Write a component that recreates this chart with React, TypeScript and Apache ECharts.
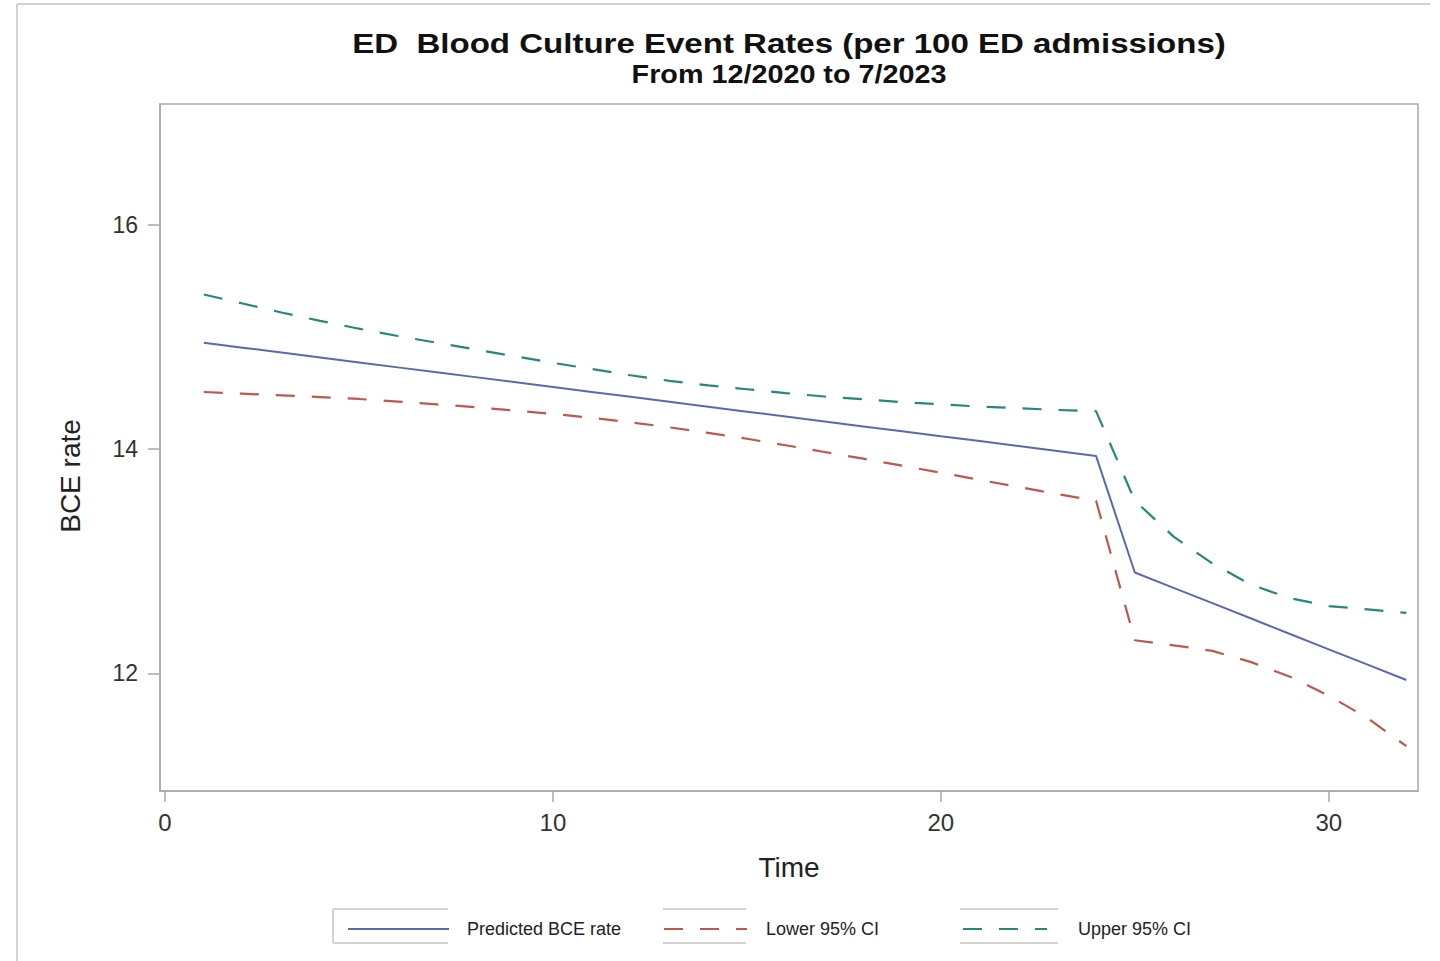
import React, { useEffect, useRef } from "react";
import * as echarts from "echarts";

const titleText = "ED  Blood Culture Event Rates (per 100 ED admissions)";
const subtitleText = "From 12/2020 to 7/2023";
const xAxisName = "Time";
const yAxisName = "BCE rate";

const timePoints = [1, 2, 3, 4, 5, 6, 7, 8, 9, 10, 11, 12, 13, 14, 15, 16, 17, 18, 19, 20, 21, 22, 23, 24, 25, 26, 27, 28, 29, 30, 31, 32];
const predicted = [14.95, 14.906, 14.862, 14.818, 14.774, 14.73, 14.687, 14.643, 14.599, 14.555, 14.511, 14.467, 14.423, 14.379, 14.335, 14.291, 14.247, 14.203, 14.159, 14.115, 14.072, 14.028, 13.984, 13.94, 12.9, 12.763, 12.626, 12.489, 12.351, 12.214, 12.077, 11.94];
const lowerCI = [14.51, 14.495, 14.48, 14.465, 14.448, 14.425, 14.4, 14.375, 14.345, 14.315, 14.28, 14.24, 14.195, 14.145, 14.093, 14.035, 13.975, 13.915, 13.853, 13.79, 13.726, 13.663, 13.6, 13.54, 12.295, 12.25, 12.2, 12.1, 11.97, 11.8, 11.6, 11.35];
const upperCI = [15.38, 15.3, 15.22, 15.145, 15.075, 15.01, 14.95, 14.89, 14.83, 14.77, 14.715, 14.66, 14.61, 14.57, 14.535, 14.5, 14.47, 14.445, 14.42, 14.4, 14.38, 14.365, 14.35, 14.34, 13.54, 13.22, 12.98, 12.79, 12.67, 12.6, 12.57, 12.54];

const xTicks = [0, 10, 20, 30];
const yTicks = [12, 14, 16];
const seriesNames = ["Predicted BCE rate", "Lower 95% CI", "Upper 95% CI"];

const FONT = "'Liberation Sans', Arial, sans-serif";
const BLUE = "#5b68b0";
const RED = "#c0574c";
const GREEN = "#24887a";
const FRAME = "#a9a9a9";
const LIGHT = "#d2d2d2";

export default function App() {
  const ref = useRef<HTMLDivElement>(null);
  useEffect(() => {
    if (!ref.current) return;
    const chart = echarts.init(ref.current, undefined, { renderer: "svg" });
    const pair = (arr: number[]) => timePoints.map((t, i) => [t, arr[i]]);
    const legendBase = (name: string, left: number, width: number, gap: number) => ({
      data: [name],
      left,
      top: 920,
      padding: 0,
      itemWidth: width,
      itemHeight: 14,
      selectedMode: false,
      itemStyle: { opacity: 0 },
      textStyle: { fontFamily: FONT, fontSize: 18, color: "#222", padding: [0, 0, 0, gap] },
    });
    chart.setOption({
      animation: false,
      backgroundColor: "#ffffff",
      grid: {
        left: 160,
        top: 104,
        width: 1258,
        height: 687,
        show: true,
        borderColor: FRAME,
        borderWidth: 1.5,
        containLabel: false,
      },
      xAxis: {
        type: "value",
        min: -0.13,
        max: 32.3,
        name: xAxisName,
        nameLocation: "middle",
        nameGap: 62,
        nameTextStyle: { fontFamily: FONT, fontSize: 28, color: "#222" },
        axisLine: { show: true, onZero: false, lineStyle: { color: FRAME, width: 1.5 } },
        axisTick: { show: true, length: 11, customValues: xTicks, lineStyle: { color: FRAME, width: 1.5 } },
        axisLabel: { customValues: xTicks, margin: 19, fontFamily: FONT, fontSize: 24, color: "#333" },
        splitLine: { show: false },
      },
      yAxis: {
        type: "value",
        min: 10.95,
        max: 17.08,
        axisLine: { show: true, onZero: false, lineStyle: { color: FRAME, width: 1.5 } },
        axisTick: { show: true, length: 12, customValues: yTicks, lineStyle: { color: FRAME, width: 1.5 } },
        axisLabel: { customValues: yTicks, margin: 22, fontFamily: FONT, fontSize: 23, color: "#333" },
        splitLine: { show: false },
      },
      legend: [
        legendBase(seriesNames[0], 347, 101, 13),
        legendBase(seriesNames[1], 663, 83, 14),
        legendBase(seriesNames[2], 962, 84, 26),
      ],
      series: [
        {
          name: seriesNames[0],
          type: "line",
          data: pair(predicted),
          symbol: "none",
          lineStyle: { color: BLUE, width: 2 },
          itemStyle: { color: BLUE },
        },
        {
          name: seriesNames[1],
          type: "line",
          data: pair(lowerCI),
          symbol: "none",
          lineStyle: { color: RED, width: 2.2, type: [19, 17] },
          itemStyle: { color: RED },
        },
        {
          name: seriesNames[2],
          type: "line",
          data: pair(upperCI),
          symbol: "none",
          lineStyle: { color: GREEN, width: 2.2, type: [19, 17] },
          itemStyle: { color: GREEN },
        },
      ],
      graphic: [
        { type: "line", shape: { x1: 17, y1: 4, x2: 1430, y2: 4 }, style: { stroke: LIGHT, lineWidth: 2 } },
        { type: "line", shape: { x1: 17, y1: 4, x2: 17, y2: 961 }, style: { stroke: LIGHT, lineWidth: 2 } },
        {
          type: "text",
          x: 789,
          y: 43,
          scaleX: 1.18,
          style: { text: titleText, fontFamily: FONT, fontSize: 28, fontWeight: "bold", fill: "#111", textAlign: "center", textVerticalAlign: "middle" },
        },
        {
          type: "text",
          x: 789,
          y: 75,
          scaleX: 1.15,
          style: { text: subtitleText, fontFamily: FONT, fontSize: 25, fontWeight: "bold", fill: "#111", textAlign: "center", textVerticalAlign: "middle" },
        },
        {
          type: "text",
          x: 70,
          y: 476,
          rotation: Math.PI / 2,
          style: { text: yAxisName, fontFamily: FONT, fontSize: 28, fill: "#222", textAlign: "center", textVerticalAlign: "middle" },
        },
        { type: "line", shape: { x1: 333, y1: 909, x2: 448, y2: 909 }, style: { stroke: LIGHT, lineWidth: 2 } },
        { type: "line", shape: { x1: 333, y1: 943, x2: 448, y2: 943 }, style: { stroke: LIGHT, lineWidth: 2 } },
        { type: "line", shape: { x1: 333, y1: 909, x2: 333, y2: 943 }, style: { stroke: LIGHT, lineWidth: 2 } },
        { type: "line", shape: { x1: 663, y1: 909, x2: 746, y2: 909 }, style: { stroke: LIGHT, lineWidth: 2 } },
        { type: "line", shape: { x1: 663, y1: 943, x2: 746, y2: 943 }, style: { stroke: LIGHT, lineWidth: 2 } },
        { type: "line", shape: { x1: 960, y1: 909, x2: 1058, y2: 909 }, style: { stroke: LIGHT, lineWidth: 2 } },
        { type: "line", shape: { x1: 960, y1: 943, x2: 1058, y2: 943 }, style: { stroke: LIGHT, lineWidth: 2 } },
      ],
    });
    return () => chart.dispose();
  }, []);
  return <div ref={ref} style={{ position: "fixed", left: 0, top: 0, width: 1440, height: 961 }} />;
}
